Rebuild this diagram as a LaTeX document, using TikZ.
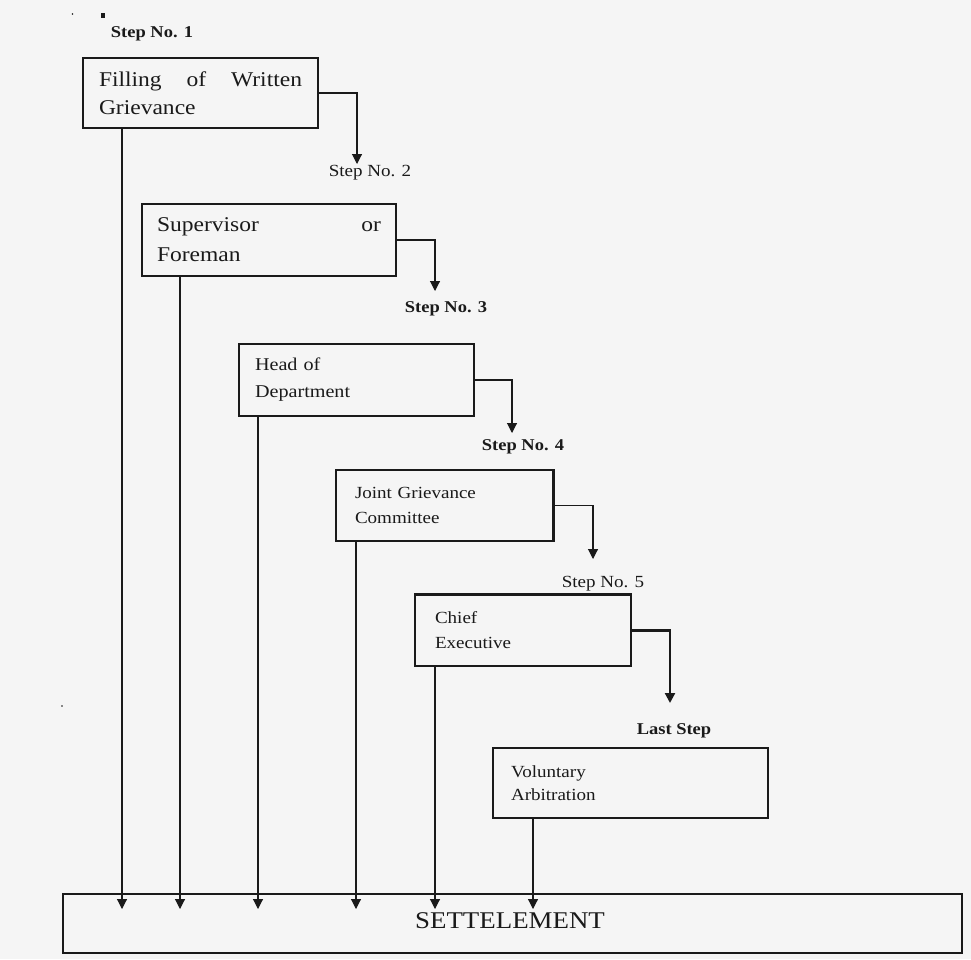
\documentclass[tikz,border=0pt]{standalone}
\usepackage{fontspec}
\setmainfont{Liberation Serif}[FakeStretch=1.12]
\usetikzlibrary{arrows.meta}
\definecolor{paper}{HTML}{F5F5F5}
\definecolor{ink}{HTML}{1A1A1A}
\begin{document}
\begin{tikzpicture}[x=1pt,y=-1pt,
  stepbox/.style={draw=ink, line width=1.2pt, rectangle, align=left, inner ysep=0pt, text=ink},
  steplabel/.style={font=\fontsize{17}{18}\selectfont, text=ink, inner sep=0pt},
  boldlabel/.style={font=\bfseries\fontsize{16.5}{18}\selectfont, text=ink, inner sep=0pt},
  conn/.style={draw=ink, line width=1.1pt, -{Triangle[width=10pt,length=10pt]}},
]
% page background
\fill[paper] (0,0) rectangle (971,959);
\useasboundingbox (0,0) rectangle (971,959);

% stray marks at the top left
\fill[ink] (101,13) rectangle (105,18);
\fill[ink] (72.5,14) circle (0.8);
\fill[ink] (62,706) circle (0.8);

% the six levels of the procedure
\node[stepbox, minimum width=235pt, minimum height=70pt, text width=203pt, inner xsep=16pt,
      font=\fontsize{21}{28}\selectfont] (b1) at (200.5,93)
      {Filling\hfill of\hfill Written\\Grievance};
\node[stepbox, minimum width=254pt, minimum height=72pt, text width=224pt, inner xsep=15pt,
      font=\fontsize{21}{30}\selectfont] (b2) at (269,240)
      {Supervisor\hfill or\\Foreman};
\node[stepbox, minimum width=235pt, minimum height=72pt, text width=203pt, inner xsep=16pt,
      font=\fontsize{18}{27}\selectfont] (b3) at (356.5,380)
      {Head of\\Department\\[-6pt]};
\node[stepbox, minimum width=217pt, minimum height=71pt, text width=179pt, inner xsep=19pt,
      font=\fontsize{17}{25}\selectfont] (b4) at (444.5,505.5)
      {Joint Grievance\\Committee};
\node[stepbox, minimum width=216pt, minimum height=71pt, text width=176pt, inner xsep=20pt,
      font=\fontsize{17}{25}\selectfont] (b5) at (523,630.5)
      {Chief\\Executive};
\node[stepbox, minimum width=275pt, minimum height=70pt, text width=239pt, inner xsep=18pt,
      font=\fontsize{17}{23}\selectfont] (b6) at (630.5,783)
      {Voluntary\\Arbitration};

% heavier edges on two of the boxes
\draw[ink, line width=2.2pt] (b4.north east) -- (b4.south east);
\draw[ink, line width=2.2pt] (b5.north west) -- (b5.north east);

% final box
\node[draw=ink, line width=1.2pt, rectangle, minimum width=899pt, minimum height=59pt,
      inner sep=0pt] (settle) at (512.5,923.5) {};
\node[font=\fontsize{24}{26}\selectfont, text=ink, inner sep=0pt] (settletext) at (510,921) {SETTELEMENT};

% step labels
\node[boldlabel] (s1) at (152,34) {Step No. 1};
\node[steplabel] (s2) at (370,173) {Step No. 2};
\node[boldlabel] (s3) at (446,309) {Step No. 3};
\node[boldlabel] (s4) at (523,447) {Step No. 4};
\node[steplabel] (s5) at (603,584) {Step No. 5};
\node[boldlabel] (s6) at (674,731) {Last Step};

% escalation arrows between levels
\coordinate (t2) at (357,164);
\coordinate (t3) at (435,291);
\coordinate (t4) at (512,433);
\coordinate (t5) at (593,559);
\coordinate (t6) at (670,703);
\draw[conn] (b1.east) -| (t2);
\draw[conn] (b2.east) -| (t3);
\draw[conn] (b3.east) -| (t4);
\draw[conn] (b4.east) -| (t5);
\draw[conn, line width=2.2pt] (b5.east) -| (t6);

% every level can end in a settlement
\coordinate (d1) at (122,909);
\coordinate (d2) at (180,909);
\coordinate (d3) at (258,909);
\coordinate (d4) at (356,909);
\coordinate (d5) at (435,909);
\coordinate (d6) at (533,909);
\draw[conn] (b1.south -| d1) -- (d1);
\draw[conn] (b2.south -| d2) -- (d2);
\draw[conn] (b3.south -| d3) -- (d3);
\draw[conn] (b4.south -| d4) -- (d4);
\draw[conn] (b5.south -| d5) -- (d5);
\draw[conn] (b6.south -| d6) -- (d6);
\end{tikzpicture}
\end{document}
